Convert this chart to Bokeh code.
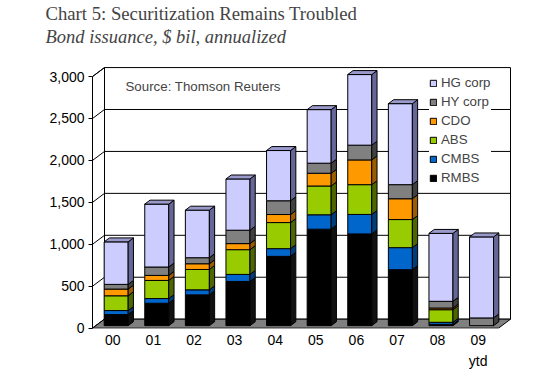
import numpy as np
from bokeh.plotting import figure
from bokeh.models import (Range1d, FixedTicker, NumeralTickFormatter, Legend,
                          LegendItem, Label, Title, LinearAxis)
from bokeh.embed import file_html
from bokeh.resources import INLINE

# ---------------- data ----------------
years = ["00", "01", "02", "03", "04", "05", "06", "07", "08", "09\nytd"]
rmbs = [132, 267, 367, 527, 826, 1150, 1094, 667, 15, 0]
cmbs = [48, 56, 60, 84, 92, 172, 232, 263, 25, 0]
abs_ = [176, 216, 243, 295, 311, 343, 355, 335, 150, 0]
cdo = [80, 60, 68, 72, 96, 152, 295, 248, 20, 0]
hy_corp = [56, 100, 72, 160, 164, 120, 176, 168, 80, 92]
hg_corp = [507, 750, 567, 611, 599, 639, 842, 966, 810, 966]
series_names = ["RMBS", "CMBS", "ABS", "CDO", "HY corp", "HG corp"]
series_values = [rmbs, cmbs, abs_, cdo, hy_corp, hg_corp]
front_colors = ["#000000", "#0066CC", "#99CC00", "#FF9900", "#808080", "#CCCCFF"]
side_colors = ["#111111", "#003D7A", "#4D6600", "#995C00", "#404040", "#666699"]
top_colors = ["#333333", "#3385D6", "#B8DB4D", "#FFB84D", "#A6A6A6", "#9999CC"]
y_ticks = [0, 500, 1000, 1500, 2000, 2500, 3000]
title_text = "Chart 5: Securitization Remains Troubled"
subtitle_text = "Bond issuance, $ bil, annualized"
source_text = "Source: Thomson Reuters"

# ---------------- geometry (pixel scale of the 3-D box) ----------------
PX = 40.6              # px per category
K = 251.6 / 3000.0     # px per unit
DX = 12.0 / PX         # wall depth in x units
DY = 9.0 / K           # wall depth in y units
F0 = 0.28              # depth fraction of bar front face
FD = 0.44              # bar depth fraction
BW = 24.0 / PX         # bar width
N = len(years)
YMAX = y_ticks[-1]

FRAME_L, FRAME_T = 92, 66
FRAME_W = 420
FRAME_H = 262
y0 = -4.0
y1 = y0 + FRAME_H / K


def sx2x(px):
    return (px - FRAME_L) / PX


def sy2y(py):
    return y0 + (FRAME_T + FRAME_H - py) / K


p = figure(frame_width=FRAME_W, frame_height=FRAME_H,
           x_range=Range1d(0, FRAME_W / PX), y_range=Range1d(y0, y1),
           output_backend="svg", toolbar_location=None,
           min_border_left=FRAME_L, min_border_right=34,
           min_border_top=FRAME_T, min_border_bottom=51,
           x_axis_location=None, y_axis_location=None,
           background_fill_color="white", border_fill_color="white",
           outline_line_color=None)
p.grid.visible = False

# titles: main title outermost, then subtitle, then a blank spacer next to the frame
p.title.text = title_text
p.title.text_font = "Liberation Serif"
p.title.text_font_style = "normal"
p.title.text_font_size = "18.7px"
p.title.offset = -47
p.title.standoff = 1
spacer = Title(text=" ", text_font="Liberation Serif", text_font_size="12px",
               standoff=3.5)
p.add_layout(spacer, "above")
sub_title = Title(text=subtitle_text,
                  text_font="Liberation Serif", text_font_style="italic",
                  text_font_size="18.5px", offset=-47, standoff=0)
p.add_layout(sub_title, "above")

# ---------------- walls ----------------
p.patch([0, DX, DX, 0], [0, DY, YMAX + DY, YMAX], fill_color="white",
        line_color="black", line_width=1)
p.patch([DX, N + DX, N + DX, DX], [DY, DY, YMAX + DY, YMAX + DY],
        fill_color="white", line_color="black", line_width=1)
gx = [[DX, N + DX] for v in y_ticks[1:-1]]
gy = [[v + DY, v + DY] for v in y_ticks[1:-1]]
p.multi_line(gx, gy, line_color="black", line_width=1)
dxs = [[0, DX] for v in y_ticks]
dys = [[v, v + DY] for v in y_ticks]
p.multi_line(dxs, dys, line_color="black", line_width=1)
p.patch([0, N, N + DX, DX], [0, 0, DY, DY], fill_color="#808080",
        line_color="black", line_width=1)

# ---------------- bars ----------------
base = F0 * DY
cum = np.zeros(N)
front_renderers = []
for s, vals in enumerate(series_values):
    vals = np.array(vals, dtype=float)
    bottoms = cum.copy()
    tops = cum + vals
    cum = tops
    mask = vals > 0
    idx = np.arange(N)[mask]
    xc = idx + 0.5 + F0 * DX
    left = xc - BW / 2
    right = xc + BW / 2
    b = bottoms[mask] + base
    t = tops[mask] + base
    r = p.quad(left=left, right=right, bottom=b, top=t,
               fill_color=front_colors[s], line_color="black", line_width=1)
    front_renderers.append(r)
    sxs = [[rr, rr + FD * DX, rr + FD * DX, rr] for rr in right]
    sys_ = [[bb, bb + FD * DY, tt + FD * DY, tt] for bb, tt in zip(b, t)]
    p.patches(sxs, sys_, fill_color=side_colors[s], line_color="black", line_width=1)

totals = cum
top_series = []
for i in range(N):
    last = 0
    for s, vals in enumerate(series_values):
        if vals[i] > 0:
            last = s
    top_series.append(last)
txs, tys, tcs = [], [], []
for i in range(N):
    xc = i + 0.5 + F0 * DX
    l, rr = xc - BW / 2, xc + BW / 2
    T = totals[i] + base
    txs.append([l, rr, rr + FD * DX, l + FD * DX])
    tys.append([T, T, T + FD * DY, T + FD * DY])
    tcs.append(top_colors[top_series[i]])
p.patches(txs, tys, fill_color=tcs, line_color="black", line_width=1)

# ---------------- axes ----------------
yaxis = LinearAxis(ticker=FixedTicker(ticks=y_ticks),
                   formatter=NumeralTickFormatter(format="0,0"),
                   bounds=(0, YMAX))
yaxis.axis_line_color = "black"
yaxis.major_tick_out = 4
yaxis.major_tick_in = 0
yaxis.minor_tick_line_color = None
yaxis.major_label_standoff = 4
yaxis.major_label_text_font = "Liberation Sans"
yaxis.major_label_text_font_size = "14px"
yaxis.major_label_text_color = "black"
p.add_layout(yaxis, "left")

xaxis = LinearAxis(ticker=FixedTicker(ticks=[i + 0.5 for i in range(N)]),
                   major_label_overrides={i + 0.5: years[i] for i in range(N)})
xaxis.axis_line_color = None
xaxis.major_tick_line_color = None
xaxis.major_tick_out = 0
xaxis.major_tick_in = 0
xaxis.minor_tick_line_color = None
xaxis.major_label_standoff = 3
xaxis.major_label_text_font = "Liberation Sans"
xaxis.major_label_text_font_size = "14px"
xaxis.major_label_text_color = "black"
xaxis.major_label_text_line_height = 1.35
p.add_layout(xaxis, "below")

# source note
p.add_layout(Label(x=sx2x(125), y=sy2y(86), text=source_text,
                   text_font="Liberation Sans", text_font_size="13.3px",
                   text_baseline="middle"))

# ---------------- legend ----------------
items = [LegendItem(label=series_names[s], renderers=[front_renderers[s]])
         for s in reversed(range(len(series_names)))]
legend = Legend(items=items, location=(337, 141), orientation="vertical",
                glyph_width=8, glyph_height=8, label_standoff=4, padding=3,
                spacing=0, margin=0, label_height=19,
                label_text_font="Liberation Sans", label_text_font_size="13.3px",
                border_line_color=None, background_fill_color="white",
                background_fill_alpha=1.0)
p.add_layout(legend, "center")

open("out.html", "w").write(file_html(p, INLINE))
